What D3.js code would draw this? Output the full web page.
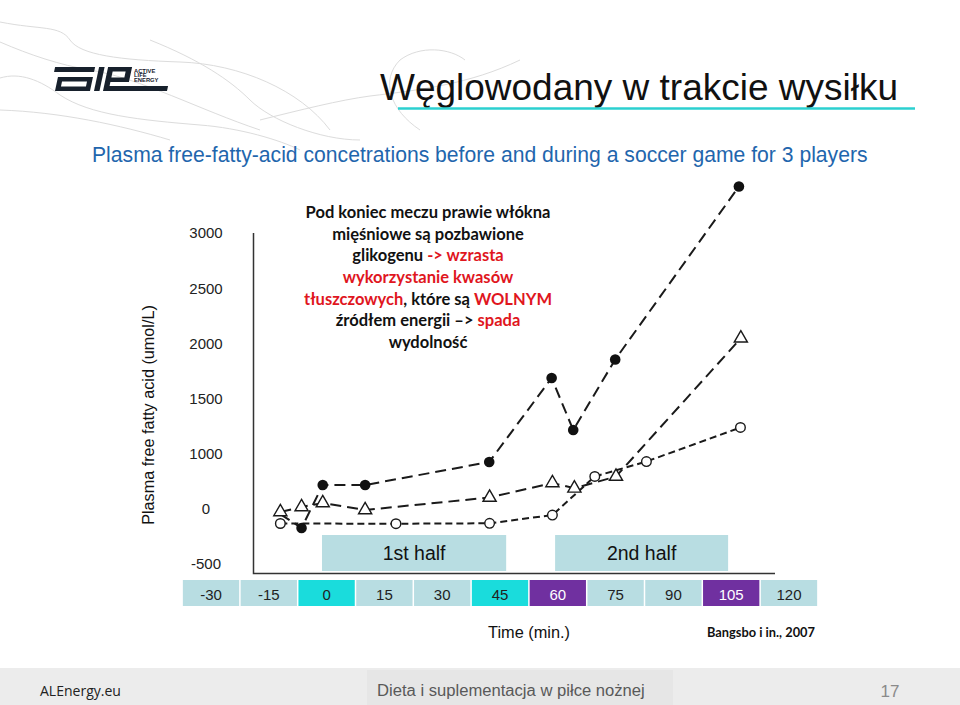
<!DOCTYPE html>
<html><head><meta charset="utf-8">
<script src="https://cdn.jsdelivr.net/npm/d3@7"></script>
<style>body{margin:0;background:#fff}svg{display:block}</style>
</head><body><svg id="c" width="960" height="705"></svg>
<script>
// ---------- data ----------
const timeTicks = [-30, -15, 0, 15, 30, 45, 60, 75, 90, 105, 120];
const cyanTicks = [0, 45];
const purpleTicks = [60, 105];
const yTickLabels = [3000, 2500, 2000, 1500, 1000, 0, -500];

const filledTime   = [-12, -6.5, -1, 10, 42.2, 58.4, 64, 74.9, 107];
const filledValue  = [-55, -182, 418, 418, 836, 1682, 1209, 1850, 3406];
const triangleTime = [-12, -6.5, -1, 10, 42.3, 58.6, 64.3, 75.1, 107.5];
const triangleValue= [-36, 18, 91, -18, 191, 455, 358, 573, 2043];
const circleTime   = [-12, 18, 42.3, 58.6, 69.6, 83, 107.4];
const circleValue  = [-141, -143, -139, -64, 573, 845, 1232];

const halfLabels = ["1st half", "2nd half"];
const halfStart  = [-1.2, 59.3];
const halfEnd    = [46.6, 104.2];

const annotationLines = [
  [["Pod koniec meczu prawie włókna", 0]],
  [["mięśniowe są pozbawione", 0]],
  [["glikogenu ", 0], ["-> wzrasta", 1]],
  [["wykorzystanie kwasów", 1]],
  [["tłuszczowych", 1], [", które są ", 0], ["WOLNYM", 1]],
  [["źródłem energii –> ", 0], ["spada", 1]],
  [["wydolność", 0]]
];

// ---------- setup ----------
const svg = d3.select("#c");
const ARIAL = "'Liberation Sans', Arial, sans-serif";

function fit(sel, w) {
  const cur = sel.node().getComputedTextLength();
  const fs = parseFloat(sel.attr("font-size"));
  sel.attr("font-size", (fs * w / cur).toFixed(2));
  return sel;
}

// decorative background curves
const deco = svg.append("g").attr("fill", "none").attr("stroke", "#dcdcdc").attr("stroke-width", 1);
[
  "M0,22 C40,30 60,25 70,40 C80,55 120,60 180,62 C240,64 300,90 330,130",
  "M0,42 C30,55 60,65 90,70 C140,78 200,110 260,130",
  "M0,78 C20,72 40,80 60,95 C90,115 140,120 200,125 C240,128 280,140 300,150",
  "M0,110 C60,112 120,125 170,140",
  "M260,120 C300,110 340,100 370,96 C420,90 470,84 520,60",
  "M420,130 C390,110 380,80 400,60 C420,45 450,48 465,60",
  "M150,40 C200,60 230,80 250,100 C270,120 320,140 360,140"
].forEach(d => deco.append("path").attr("d", d));

// logo
const logo = svg.append("g").attr("fill", "#17202c");
const lg = logo.append("g").attr("transform", "translate(90,91) skewX(-12) translate(-90,-91)");
lg.append("rect").attr("x", 50).attr("y", 67).attr("width", 40).attr("height", 5);
lg.append("path").attr("fill-rule", "evenodd")
  .attr("d", "M55,77 H90 V91 H55 Z M60,81.5 H85 V86.5 H60 Z");
lg.append("rect").attr("x", 94).attr("y", 67).attr("width", 5.5).attr("height", 24);
lg.append("path").attr("fill-rule", "evenodd")
  .attr("d", "M103,67 H127 V82 H108.5 V86 H167 V91 H103 Z M108.5,71.5 H121.5 V77.5 H108.5 Z");
["ACTIVE", "LIFE", "ENERGY"].forEach((t, i) => {
  svg.append("text").attr("x", 134).attr("y", 72.5 + i * 4.9).attr("font-family", ARIAL)
    .attr("font-weight", "bold").attr("font-size", 5.8).attr("fill", "#17202c").text(t);
});

// title
const title = svg.append("text").attr("x", 380).attr("y", 100).attr("font-family", ARIAL)
  .attr("font-size", 32).attr("fill", "#111").text("Węglowodany w trakcie wysiłku");
fit(title, 518);
svg.append("line").attr("x1", 398).attr("x2", 915).attr("y1", 108.5).attr("y2", 108.5)
  .attr("stroke", "#2cd0d0").attr("stroke-width", 2.5);

// subtitle
const sub = svg.append("text").attr("x", 92).attr("y", 162).attr("font-family", ARIAL)
  .attr("font-size", 19).attr("fill", "#1f66ad")
  .text("Plasma free-fatty-acid concetrations before and during a soccer game for 3 players");
fit(sub, 776);

// scales
const x = d3.scaleLinear().domain([-30, 120]).range([211, 789]);
const y = d3.scaleLinear().domain([-500, 0, 1000, 1500, 2000, 2500, 3000])
  .range([563, 508, 453, 398, 343, 288, 232]);

// y axis label
const yl = svg.append("text").attr("transform", "translate(154,415) rotate(-90)")
  .attr("text-anchor", "middle").attr("font-family", ARIAL).attr("font-size", 16)
  .attr("fill", "#111").text("Plasma free fatty acid (umol/L)");
fit(yl, 220);

// y tick labels
svg.append("g").selectAll("text").data(yTickLabels).join("text")
  .attr("x", 206).attr("y", d => y(d) + 5.5).attr("text-anchor", "middle")
  .attr("font-family", ARIAL).attr("font-size", 15).attr("fill", "#222").text(d => d);

// axis frame
svg.append("path").attr("d", "M253.5,233 V573.5 H775").attr("fill", "none")
  .attr("stroke", "#333").attr("stroke-width", 1.5);

// half boxes
const halves = halfLabels.map((l, i) => ({ l, s: halfStart[i], e: halfEnd[i] }));
const hg = svg.append("g").selectAll("g").data(halves).join("g");
hg.append("rect").attr("x", d => x(d.s)).attr("width", d => x(d.e) - x(d.s))
  .attr("y", 535).attr("height", 36).attr("fill", "#b8dde2");
hg.append("text").attr("x", d => (x(d.s) + x(d.e)) / 2).attr("y", 560)
  .attr("text-anchor", "middle").attr("font-family", ARIAL).attr("font-size", 19.5)
  .attr("fill", "#111").text(d => d.l);

// x tick boxes
const step = x(15) - x(0);
const tg = svg.append("g").selectAll("g").data(timeTicks).join("g");
const boxFill = d => cyanTicks.includes(d) ? "#1adcdc" : purpleTicks.includes(d) ? "#7030a0" : "#b8dde2";
tg.append("rect").attr("x", d => x(d) - step / 2 + 0.75).attr("width", step - 1.5)
  .attr("y", 580).attr("height", 26).attr("fill", boxFill);
tg.append("text").attr("x", d => x(d)).attr("y", 600).attr("text-anchor", "middle")
  .attr("font-family", ARIAL).attr("font-size", 15)
  .attr("fill", d => purpleTicks.includes(d) ? "#fff" : "#222").text(d => d);

// lines
const line = d3.line().x(d => x(d[0])).y(d => y(d[1]));
const zip = (a, b) => a.map((t, i) => [t, b[i]]);
const filled = zip(filledTime, filledValue);
const tri = zip(triangleTime, triangleValue);
const circ = zip(circleTime, circleValue);

const lg2 = svg.append("g").attr("fill", "none").attr("stroke", "#1a1a1a").attr("stroke-width", 2);
lg2.append("path").attr("d", line(circ)).attr("stroke-dasharray", "7,4");
lg2.append("path").attr("d", line(tri)).attr("stroke-dasharray", "11,6");
lg2.append("path").attr("d", line(filled)).attr("stroke-dasharray", "11,6");

// markers
svg.append("g").selectAll("circle").data(circ).join("circle")
  .attr("cx", d => x(d[0])).attr("cy", d => y(d[1])).attr("r", 4.8)
  .attr("fill", "#fff").attr("stroke", "#1a1a1a").attr("stroke-width", 1.4);
const triSym = d3.symbol().type(d3.symbolTriangle).size(75);
svg.append("g").selectAll("path").data(tri).join("path")
  .attr("d", triSym).attr("transform", d => `translate(${x(d[0])},${y(d[1])})`)
  .attr("fill", "#fff").attr("stroke", "#1a1a1a").attr("stroke-width", 1.4);
svg.append("g").selectAll("circle").data(filled.slice(1)).join("circle")
  .attr("cx", d => x(d[0])).attr("cy", d => y(d[1])).attr("r", 5.3).attr("fill", "#111");

// annotation
const ANN = "Lato, 'Open Sans', sans-serif";
const colors = ["#111", "#e0161e"];
const ag = svg.append("g");
const annTexts = annotationLines.map((segs, i) => {
  const t = ag.append("text").attr("x", 428).attr("y", 218 + i * 21.67).attr("text-anchor", "middle")
    .attr("font-family", ANN).attr("font-weight", "bold").attr("font-size", 15);
  segs.forEach(s => t.append("tspan").attr("fill", colors[s[1]]).text(s[0]));
  return t;
});
const w0 = annTexts[0].node().getComputedTextLength();
const annFs = 15 * 245 / w0;
annTexts.forEach(t => t.attr("font-size", annFs.toFixed(2)));

// Time label and source
const tl = svg.append("text").attr("x", 529).attr("y", 638).attr("text-anchor", "middle")
  .attr("font-family", ARIAL).attr("font-size", 15).attr("fill", "#111").text("Time (min.)");
fit(tl, 82);
const src = svg.append("text").attr("x", 707).attr("y", 637).attr("font-family", ANN)
  .attr("font-weight", "bold").attr("font-size", 12).attr("fill", "#111").text("Bangsbo i in., 2007");
fit(src, 108);

// footer
svg.append("rect").attr("x", 0).attr("y", 668).attr("width", 960).attr("height", 37).attr("fill", "#ececec");
svg.append("rect").attr("x", 367).attr("y", 670).attr("width", 306).attr("height", 35).attr("fill", "#e6e6e6");
const f1 = svg.append("text").attr("x", 40).attr("y", 696).attr("font-family", "'Open Sans', sans-serif")
  .attr("font-size", 14).attr("fill", "#222").text("ALEnergy.eu");
fit(f1, 81);
const f2 = svg.append("text").attr("x", 377).attr("y", 696).attr("font-family", ARIAL)
  .attr("font-size", 16).attr("fill", "#595959").text("Dieta i suplementacja w piłce nożnej");
fit(f2, 268);
svg.append("text").attr("x", 890).attr("y", 697).attr("text-anchor", "middle").attr("font-family", ARIAL)
  .attr("font-size", 17).attr("fill", "#8a8a8a").text("17");
</script></body></html>
